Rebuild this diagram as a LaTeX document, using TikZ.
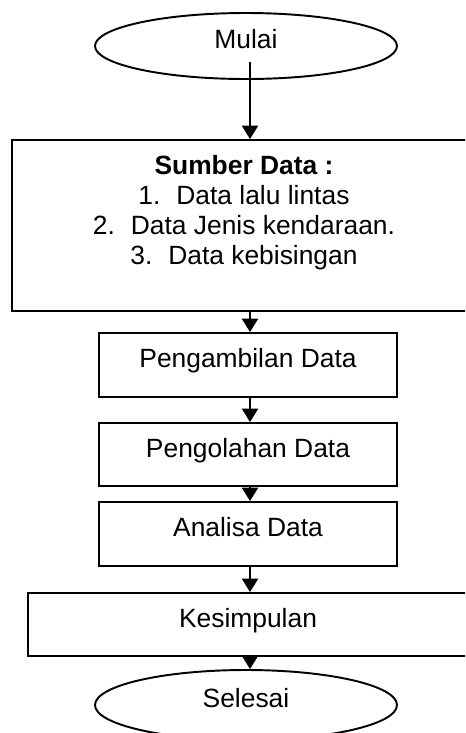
\documentclass[tikz,border=0pt]{standalone}
\usepackage{fontspec}
\setmainfont{Liberation Sans}
\usetikzlibrary{arrows.meta,shapes.geometric}

\tikzset{
  flow/.style={draw=black, line width=1.45pt, inner sep=0pt,
    font=\fontsize{19.8}{22.5}\selectfont, text height=0.7em, text depth=0.28em},
  stepbox/.style={flow, rectangle, minimum height=48pt},
  terminal/.style={flow, ellipse, minimum width=226.5pt},
  arr/.style={line width=1.45pt, -{Triangle[width=12pt,length=10pt]}}
}

\begin{document}
\begin{tikzpicture}[x=0.75pt, y=-0.75pt]
  \clip (0,0) rectangle (465,733);
  \fill[white] (0,0) rectangle (465,733);

  % start and end terminals
  \node[terminal, minimum height=49.5pt] (mulai) at (246,46) {Mulai};
  \node[terminal, minimum height=52.5pt] (selesai) at (246,705) {Selesai};

  % data sources box with its list
  \node[flow, rectangle, minimum width=354pt, minimum height=128.25pt] (sumber) at (248,225.5) {};
  \node[anchor=north, align=center, inner sep=0pt,
        font=\fontsize{19.8}{22.5}\selectfont] (sumbertext) at (244,155.5)
    {\textbf{Sumber Data :}\\
     1.\hspace{0.6em}Data lalu lintas\\[-0.6pt]
     2.\hspace{0.6em}Data Jenis kendaraan.\\[0.6pt]
     3.\hspace{0.6em}Data kebisingan};

  % process steps
  \node[stepbox, minimum width=223.5pt] (ambil) at (248,365) {Pengambilan Data};
  \node[stepbox, minimum width=223.5pt, minimum height=47.25pt] (olah) at (248,454.5) {Pengolahan Data};
  \node[stepbox, minimum width=223.5pt] (analisa) at (248,534) {Analisa Data};
  \node[stepbox, minimum width=330pt, minimum height=47.25pt] (kesimpulan) at (248,624.5) {Kesimpulan};

  % connectors
  \coordinate (m0) at (250,62);
  \draw[arr] (m0) -- (sumber.north -| m0);
  \draw[arr] (sumber.south -| m0) -- (ambil.north -| m0);
  \draw[arr] (ambil.south -| m0) -- (olah.north -| m0);
  \draw[arr] (olah.south -| m0) -- (analisa.north -| m0);
  \draw[arr] (analisa.south -| m0) -- (kesimpulan.north -| m0);
  \draw[arr] (kesimpulan.south -| m0) -- (selesai.north -| m0);
\end{tikzpicture}
\end{document}
